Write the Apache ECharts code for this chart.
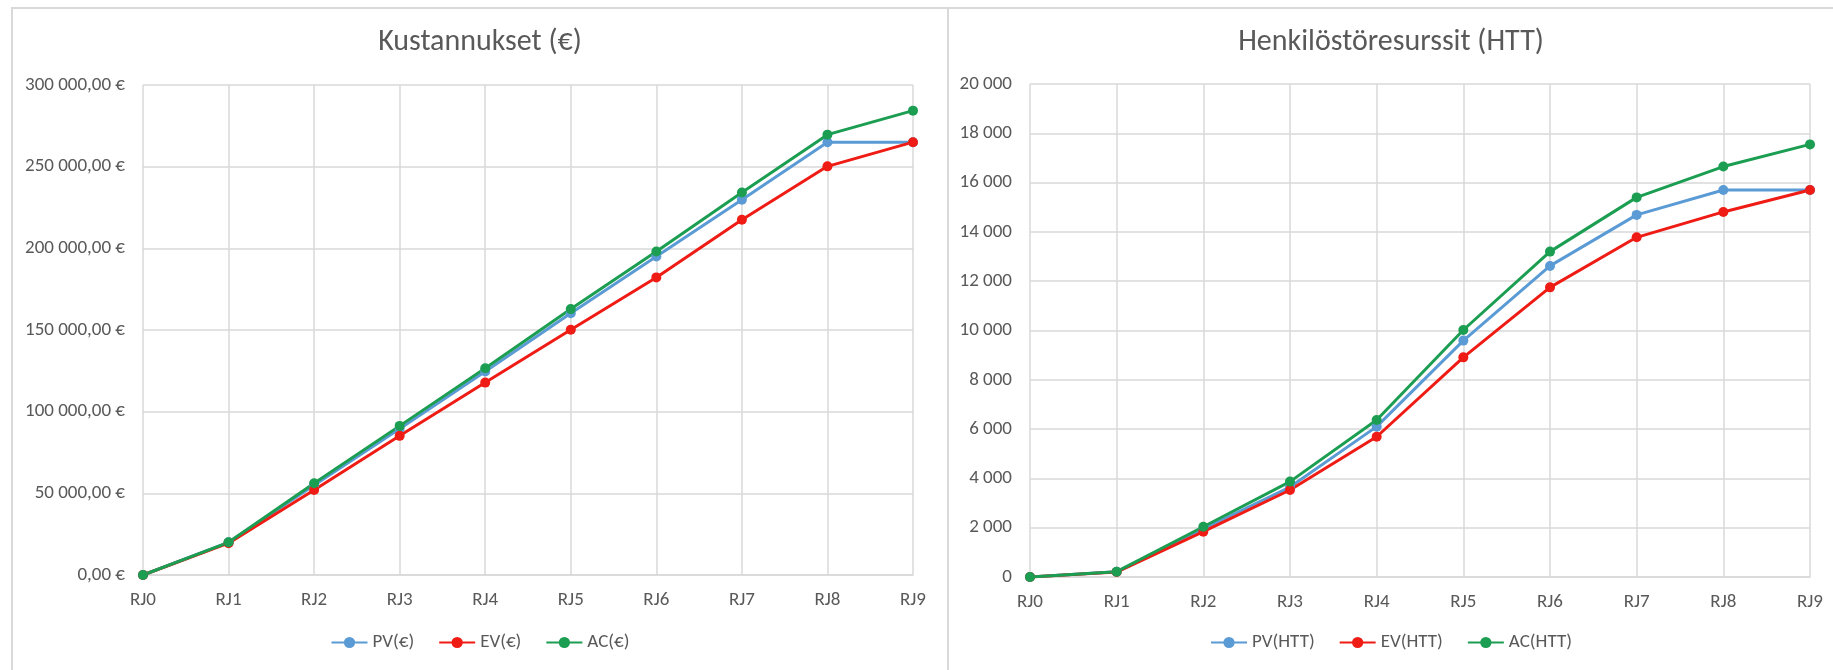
<!DOCTYPE html>
<html>
<head>
<meta charset="utf-8">
<script src="https://cdn.jsdelivr.net/npm/echarts@6/dist/echarts.min.js"></script>
<style>
html,body{margin:0;padding:0;background:#fff;width:1833px;height:670px;overflow:hidden;}
#frame{position:absolute;left:11px;top:7px;width:1822px;height:663px;border-top:2px solid #d9d9d9;border-left:2px solid #d9d9d9;box-sizing:border-box;}
#sep{position:absolute;left:947px;top:7px;width:2px;height:663px;background:#d9d9d9;}
#c1{position:absolute;left:13px;top:0;width:934px;height:670px;}
#c2{position:absolute;left:949px;top:0;width:884px;height:670px;}
</style>
</head>
<body>
<div id="frame"></div>
<div id="sep"></div>
<div id="c1"></div>
<div id="c2"></div>
<script>
const categories = ['RJ0','RJ1','RJ2','RJ3','RJ4','RJ5','RJ6','RJ7','RJ8','RJ9'];

const costTitle = 'Kustannukset (€)';
const costNames = ['PV(€)','EV(€)','AC(€)'];
const costPV = [0, 20000, 55000, 89500, 124600, 160300, 195000, 229800, 265000, 265000];
const costEV = [0, 19500, 52100, 85200, 117800, 150100, 182200, 217500, 250200, 265000];
const costAC = [0, 20000, 56200, 91300, 126600, 162800, 198100, 234200, 269600, 284300];

const hrTitle = 'Henkilöstöresurssit (HTT)';
const hrNames = ['PV(HTT)','EV(HTT)','AC(HTT)'];
const hrPV = [0, 210, 1950, 3650, 6100, 9590, 12620, 14690, 15700, 15700];
const hrEV = [0, 200, 1840, 3530, 5690, 8910, 11750, 13780, 14810, 15700];
const hrAC = [0, 215, 2040, 3870, 6370, 10020, 13200, 15400, 16650, 17550];

const colors = ['#5b9bd5', '#ee1c14', '#1c9e52'];
const FONT = "'Liberation Sans Narrow', 'Carlito', 'Liberation Sans', sans-serif";
const TXT = '#595959';
const GRID = '#d9d9d9';

function fmtThousands(v) {
  const s = Math.round(v).toString();
  return s.replace(/\B(?=(\d{3})+(?!\d))/g, ' ');
}

function makeOption(title, names, data, grid, yMax, yInt, yFmt) {
  return {
    animation: false,
    textStyle: { fontFamily: FONT },
    title: {
      text: title, left: 'center', top: 27, padding: 0,
      textStyle: { fontFamily: FONT, fontSize: 30, fontWeight: 'normal', color: TXT }
    },
    legend: {
      data: names, bottom: 13, left: 'center',
      itemWidth: 36, itemHeight: 14, itemGap: 24,
      textStyle: { fontFamily: FONT, fontSize: 19, color: TXT }
    },
    grid: grid,
    xAxis: {
      type: 'category', data: categories, boundaryGap: false,
      axisLine: { show: true, lineStyle: { color: GRID, width: 1.5 } },
      axisTick: { show: false },
      splitLine: { show: true, lineStyle: { color: GRID, width: 1.5 } },
      axisLabel: { fontFamily: FONT, fontSize: 19, color: TXT, margin: 16 }
    },
    yAxis: {
      type: 'value', min: 0, max: yMax, interval: yInt,
      axisLine: { show: false }, axisTick: { show: false },
      splitLine: { show: true, lineStyle: { color: GRID, width: 1.5 } },
      axisLabel: { fontFamily: FONT, fontSize: 19, color: TXT, margin: 18, formatter: yFmt }
    },
    series: names.map((n, i) => ({
      name: n, type: 'line', data: data[i],
      symbol: 'circle', symbolSize: 10,
      itemStyle: { color: colors[i] },
      lineStyle: { color: colors[i], width: 3 }
    }))
  };
}

const c1 = echarts.init(document.getElementById('c1'));
c1.setOption(makeOption(costTitle, costNames, [costPV, costEV, costAC],
  { left: 130, right: 34, top: 85, bottom: 95 }, 300000, 50000,
  v => fmtThousands(v) + ',00 €'));

const c2 = echarts.init(document.getElementById('c2'));
c2.setOption(makeOption(hrTitle, hrNames, [hrPV, hrEV, hrAC],
  { left: 81, right: 23, top: 84, bottom: 93 }, 20000, 2000,
  v => fmtThousands(v)));
</script>
</body>
</html>
